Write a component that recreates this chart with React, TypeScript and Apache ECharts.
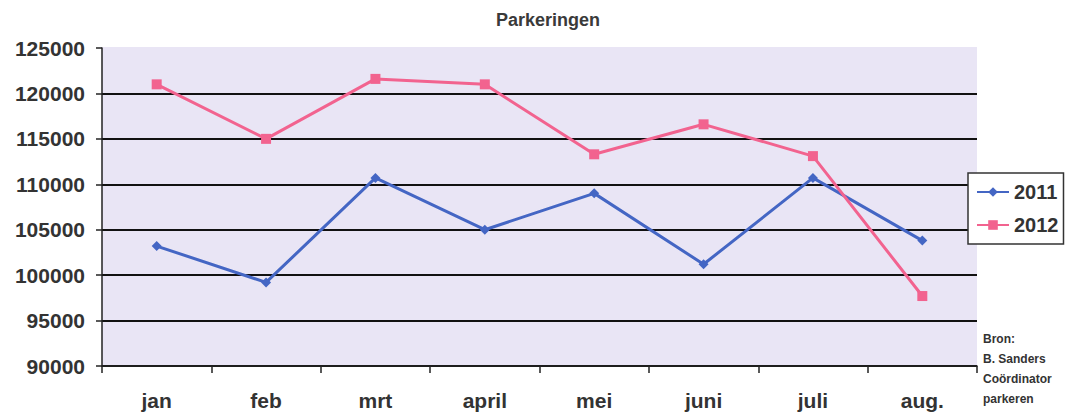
import React, { useEffect, useRef } from "react";
import * as echarts from "echarts";

const months = ["jan", "feb", "mrt", "april", "mei", "juni", "juli", "aug."];
const values2011 = [103200, 99200, 110700, 105000, 109000, 101200, 110700, 103800];
const values2012 = [121000, 115000, 121600, 121000, 113300, 116600, 113100, 97700];
const sourceLines = ["Bron:", "B. Sanders", "Coördinator", "parkeren"];

const FONT = "Arial, 'Liberation Sans', Helvetica, sans-serif";
const PLOT_BG = "#e9e5f5";

export default function App() {
  const ref = useRef<HTMLDivElement>(null);
  useEffect(() => {
    if (!ref.current) return;
    const chart = echarts.init(ref.current, undefined, { renderer: "svg" });
    chart.setOption({
      animation: false,
      backgroundColor: "#ffffff",
      title: {
        text: "Parkeringen",
        left: 543,
        top: 6,
        textAlign: "center",
        textStyle: { fontFamily: FONT, fontSize: 18, fontWeight: "bold", color: "#3a3a3a" },
      },
      grid: { left: 102, right: 95, top: 48, bottom: 48, show: true, backgroundColor: PLOT_BG, borderWidth: 0 },
      legend: {
        orient: "vertical",
        left: 968,
        top: 173,
        padding: [9, 5, 9, 8],
        itemGap: 13,
        itemWidth: 32,
        itemHeight: 12,
        backgroundColor: "#ffffff",
        borderColor: "#333",
        borderWidth: 1.5,
        textStyle: { fontFamily: FONT, fontSize: 20, fontWeight: "bold", color: "#333" },
        data: ["2011", "2012"],
      },
      xAxis: {
        type: "category",
        data: months,
        boundaryGap: true,
        axisLine: { lineStyle: { color: "#222", width: 1.5 } },
        axisTick: { show: true, length: 7, lineStyle: { color: "#222", width: 1.5 } },
        axisLabel: { fontFamily: FONT, fontSize: 21, fontWeight: "bold", color: "#333", margin: 24 },
      },
      yAxis: {
        type: "value",
        min: 90000,
        max: 125000,
        interval: 5000,
        axisLine: { show: true, lineStyle: { color: "#222", width: 1.5 } },
        axisTick: { show: true, length: 6, lineStyle: { color: "#222", width: 1.5 } },
        axisLabel: {
          fontFamily: FONT,
          fontSize: 21,
          fontWeight: "bold",
          color: "#333",
          margin: 17,
          formatter: (v: number) => String(v),
        },
        splitLine: {
          show: true,
          lineStyle: {
            color: ["#111", "#111", "#111", "#111", "#111", "#111", "#111", PLOT_BG],
            width: 2,
          },
        },
      },
      series: [
        {
          name: "2011",
          type: "line",
          data: values2011,
          symbol: "diamond",
          symbolSize: 10,
          lineStyle: { color: "#4466c4", width: 3 },
          itemStyle: { color: "#4466c4" },
        },
        {
          name: "2012",
          type: "line",
          data: values2012,
          symbol: "rect",
          symbolSize: 10,
          lineStyle: { color: "#f2638f", width: 3 },
          itemStyle: { color: "#f2638f" },
        },
      ],
      graphic: sourceLines.map((t, i) => ({
        type: "text",
        left: 983,
        top: 333 + i * 20,
        style: { text: t, fontFamily: FONT, fontSize: 12, fontWeight: "bold", fill: "#333" },
      })),
    });
    return () => chart.dispose();
  }, []);
  return <div ref={ref} style={{ width: 1072, height: 414, position: "absolute", left: 0, top: 0 }} />;
}
